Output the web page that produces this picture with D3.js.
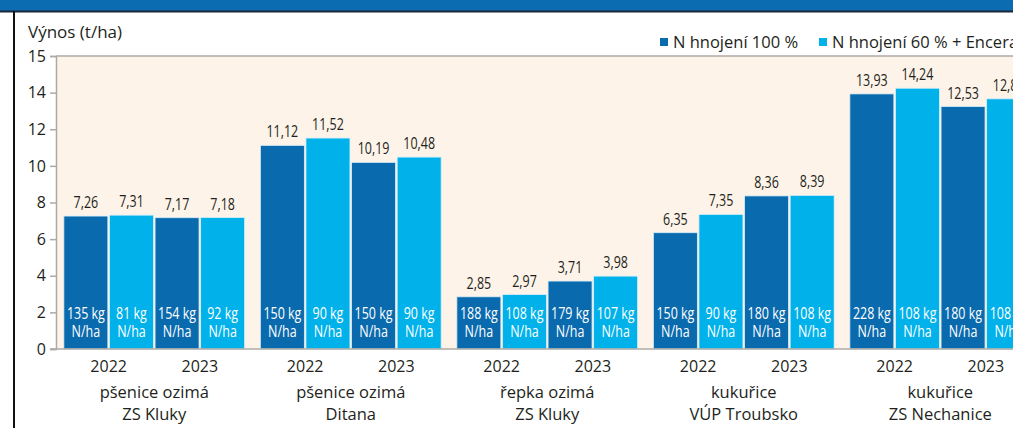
<!DOCTYPE html>
<html>
<head>
<meta charset="utf-8">
<script src="https://cdn.jsdelivr.net/npm/d3@7/dist/d3.min.js"></script>
<style>
  html, body { margin: 0; padding: 0; background: #ffffff; overflow: hidden; }
  svg { display: block; }
</style>
</head>
<body>
<svg id="chart" width="1013" height="428"></svg>
<script>
// ---- data ----
const groupLine1 = ["pšenice ozimá", "pšenice ozimá", "řepka ozimá", "kukuřice", "kukuřice"];
const groupLine2 = ["ZS Kluky", "Ditana", "ZS Kluky", "VÚP Troubsko", "ZS Nechanice"];
const years = ["2022", "2023"];
const seriesNames = ["N hnojení 100 %", "N hnojení 60 % + Encera"];
// bar order inside a group: 2022 100 %, 2022 60 %, 2023 100 %, 2023 60 %
const barHeights = [
  [7.26, 7.31, 7.17, 7.18],
  [11.12, 11.52, 10.19, 10.48],
  [2.85, 2.97, 3.71, 3.98],
  [6.35, 7.35, 8.36, 8.39],
  [13.93, 14.24, 13.24, 13.66]
];
const valueLabels = [
  ["7,26", "7,31", "7,17", "7,18"],
  ["11,12", "11,52", "10,19", "10,48"],
  ["2,85", "2,97", "3,71", "3,98"],
  ["6,35", "7,35", "8,36", "8,39"],
  ["13,93", "14,24", "12,53", "12,85"]
];
const nitrogenKg = [
  [135, 81, 154, 92],
  [150, 90, 150, 90],
  [188, 108, 179, 107],
  [150, 90, 180, 108],
  [228, 108, 180, 108]
];
const yTickValues = [0, 2, 4, 6, 8, 10, 12, 14, 16];
const yTickLabels = ["0", "2", "4", "6", "8", "10", "12", "14", "15"];

// ---- style ----
const darkBlue = "#0a6aae";
const lightBlue = "#00b1ea";
const cream = "#fdf3e8";
const axisGray = "#aeaaa6";
const textColor = "#231f20";
const sansFont = "'Open Sans', 'Noto Sans', sans-serif";
const narrowScale = 0.78;

const svg = d3.select("#chart");
const W = 1013, H = 428;
const plotLeft = 56, plotTop = 56, plotBottom = 349;

// title bar and frame
svg.append("rect").attr("x", 0).attr("y", 0).attr("width", W).attr("height", 11).attr("fill", "#0b6cb2");
svg.append("rect").attr("x", 0).attr("y", 10.5).attr("width", W).attr("height", 2).attr("fill", "#1b2636");
svg.append("rect").attr("x", 13).attr("y", 11).attr("width", 2).attr("height", H - 11).attr("fill", "#111111");

// scales
const y = d3.scaleLinear().domain([0, 16]).range([plotBottom, plotTop]);
const x0 = d3.scaleBand().domain(d3.range(groupLine1.length))
  .range([plotLeft, plotLeft + 5 * 196.5]).paddingInner(0.08).paddingOuter(0.04);
const x1 = d3.scaleBand().domain(d3.range(4)).range([0, x0.bandwidth()]).paddingInner(0.035);
const colorOf = i => (i % 2 === 0 ? darkBlue : lightBlue);

// plot background
svg.append("rect").attr("x", plotLeft).attr("y", plotTop)
  .attr("width", W - plotLeft + 10).attr("height", plotBottom - plotTop)
  .attr("fill", cream);
svg.append("line").attr("x1", plotLeft).attr("x2", W + 5)
  .attr("y1", plotTop).attr("y2", plotTop).attr("stroke", axisGray).attr("stroke-width", 1.5);

// bars
const gSel = svg.append("g").selectAll("g.grp").data(barHeights).join("g")
  .attr("class", "grp")
  .attr("transform", (d, i) => `translate(${x0(i)},0)`);

gSel.each(function (vals, gi) {
  const g = d3.select(this);
  const cx = (d, i) => x1(i) + x1.bandwidth() / 2;
  g.selectAll("rect.bar").data(vals).join("rect")
    .attr("class", "bar")
    .attr("x", (d, i) => x1(i))
    .attr("width", x1.bandwidth())
    .attr("y", d => y(d))
    .attr("height", d => y(0) - y(d))
    .attr("fill", (d, i) => colorOf(i))
    .attr("stroke", "#d8eef8").attr("stroke-width", 0.8);

  // value labels (condensed look)
  g.selectAll("text.val").data(vals).join("text")
    .attr("class", "val")
    .attr("transform", (d, i) => `translate(${cx(d, i)},${y(d) - 8}) scale(${narrowScale},1)`)
    .attr("text-anchor", "middle")
    .attr("font-family", sansFont).attr("font-size", 16)
    .attr("fill", textColor)
    .text((d, i) => valueLabels[gi][i]);

  // nitrogen labels: one text, two lines
  const kg = g.selectAll("text.kg").data(nitrogenKg[gi]).join("text")
    .attr("class", "kg")
    .attr("transform", (d, i) => `translate(${cx(d, i)},319) scale(${narrowScale},1)`)
    .attr("text-anchor", "middle")
    .attr("font-family", sansFont).attr("font-size", 16)
    .attr("fill", "#ffffff");
  kg.append("tspan").attr("x", 0).attr("y", 0).text(d => d + " kg");
  kg.append("tspan").attr("x", 0).attr("y", 18).text("N/ha");

  g.selectAll("text.yr").data(years).join("text")
    .attr("class", "yr")
    .attr("x", (d, i) => x1(i * 2) + (x1(i * 2 + 1) + x1.bandwidth() - x1(i * 2)) / 2)
    .attr("y", 372)
    .attr("text-anchor", "middle")
    .attr("font-family", sansFont).attr("font-size", 16)
    .attr("fill", textColor)
    .text(d => d);

  const gl = g.append("text")
    .attr("transform", `translate(${x0.bandwidth() / 2},398)`)
    .attr("text-anchor", "middle")
    .attr("font-family", sansFont).attr("font-size", 16.5)
    .attr("fill", textColor);
  gl.append("tspan").attr("x", 0).attr("y", 0).text(groupLine1[gi]);
  gl.append("tspan").attr("x", 0).attr("y", 22).text(groupLine2[gi]);
});

// y axis
const yAxis = d3.axisLeft(y).tickValues(yTickValues)
  .tickFormat((d, i) => yTickLabels[i]).tickSize(6).tickPadding(4);
const yg = svg.append("g").attr("transform", `translate(${plotLeft},0)`).call(yAxis);
yg.select(".domain").attr("stroke", axisGray).attr("stroke-width", 1.5);
yg.selectAll(".tick line").attr("stroke", axisGray).attr("stroke-width", 1.5);
yg.selectAll(".tick text").attr("font-family", sansFont).attr("font-size", 16)
  .attr("fill", textColor);

// bottom axis line
svg.append("line").attr("x1", plotLeft - 6).attr("x2", W + 5)
  .attr("y1", plotBottom).attr("y2", plotBottom)
  .attr("stroke", axisGray).attr("stroke-width", 1.5);

// axis title
svg.append("text").attr("x", 28).attr("y", 38)
  .attr("font-family", sansFont).attr("font-size", 17).attr("fill", textColor)
  .text("Výnos (t/ha)");

// legend
const legendX = [660, 819];
const lg = svg.append("g").selectAll("g").data(seriesNames).join("g")
  .attr("transform", (d, i) => `translate(${legendX[i]},38)`);
lg.append("rect").attr("width", 8).attr("height", 8).attr("y", 0)
  .attr("fill", (d, i) => (i === 0 ? darkBlue : lightBlue));
lg.append("text").attr("x", 13).attr("y", 9.5)
  .attr("font-family", sansFont).attr("font-size", 16.5).attr("fill", textColor)
  .text(d => d);
</script>
</body>
</html>
